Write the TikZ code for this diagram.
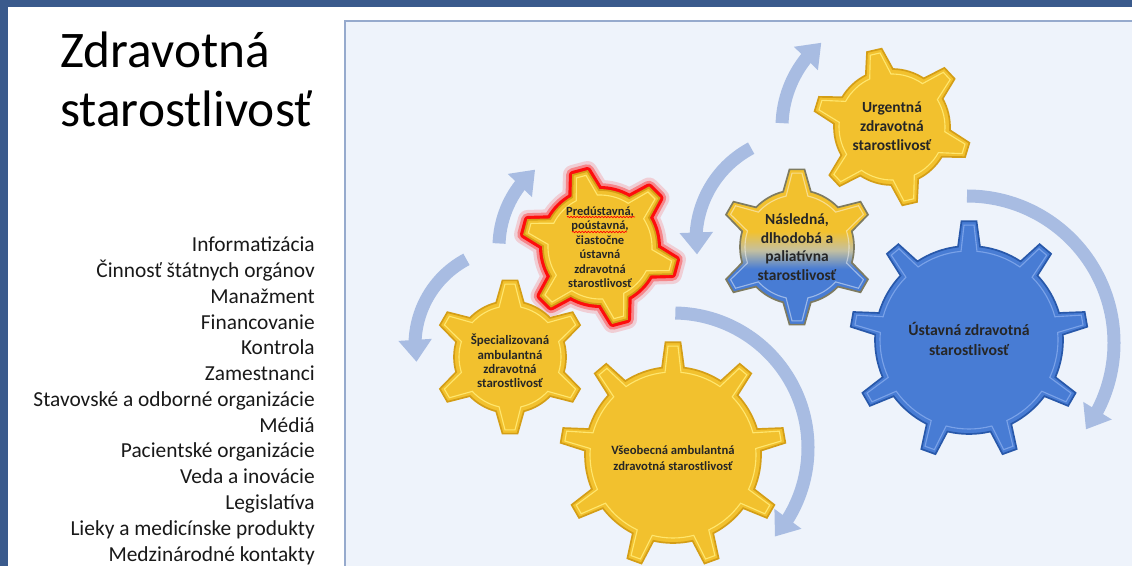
\documentclass[tikz,border=0pt]{standalone}
\usepackage{fontspec}
\setmainfont{Carlito}
\usetikzlibrary{arrows.meta,bending,decorations.pathmorphing}
\definecolor{slideframe}{RGB}{58,90,140}
\definecolor{panelfill}{RGB}{238,243,251}
\definecolor{panelline}{RGB}{150,170,205}
\definecolor{turnblue}{RGB}{168,188,226}
\definecolor{cogyellow}{RGB}{242,193,46}
\definecolor{cogyellowdark}{RGB}{212,158,22}
\definecolor{cogyellowlight}{RGB}{255,230,110}
\definecolor{cogblue}{RGB}{72,124,212}
\definecolor{cogbluedark}{RGB}{40,88,170}
\definecolor{cogbluelight}{RGB}{122,162,232}
\definecolor{cogmid}{RGB}{196,192,160}
\pgfdeclareverticalshading{cogmix}{100bp}{color(0bp)=(cogblue); color(43bp)=(cogblue); color(49bp)=(cogmid); color(55bp)=(cogyellow); color(100bp)=(cogyellow)}
% gear: [style](centre)(teeth:body r:tip r:rotation:half base:half tip)
\def\cogwheel[#1](#2)(#3:#4:#5:#6:#7:#8){%
  \begin{scope}[shift={(#2)}]
    \pgfmathsetmacro\cogstep{360/#3}
    \pgfmathsetmacro\cogb{deg(#7/#4)}
    \pgfmathsetmacro\cogt{deg(#8/#5)}
    \draw[#1] ({#6-\cogb}:#4) \foreach \k in {1,...,#3}{
      -- ({#6+(\k-1)*\cogstep-\cogt}:#5) -- ({#6+(\k-1)*\cogstep+\cogt}:#5)
      -- ({#6+(\k-1)*\cogstep+\cogb}:#4)
      arc[start angle={#6+(\k-1)*\cogstep+\cogb}, end angle={#6+\k*\cogstep-\cogb}, radius=#4]} -- cycle;
  \end{scope}}
% turning arrow: (centre)(start:end:radius)
\def\turnarc(#1)(#2:#3:#4){\draw[turnarrow] (#1) ++(#2:#4) arc[start angle=#2, end angle=#3, radius=#4];}

\begin{document}
\begin{tikzpicture}[x=0.025cm,y=0.025cm,
  turnarrow/.style={draw=turnblue, line width=0.325cm, -{Triangle[width=0.8cm,length=0.55cm]}},
  cogtext/.style={align=center, inner sep=0pt, text=black!85},
  listtext/.style={font=\fontsize{15.2}{18}\selectfont, inner sep=0pt, text=black!90},
  titletext/.style={font=\fontsize{36.5}{42}\selectfont, inner sep=0pt, anchor=base west},
  spellmark/.style={draw=red, line width=0.5pt, decorate, decoration={snake, amplitude=0.5pt, segment length=2.2pt}}]

\useasboundingbox (0,0) rectangle (1132,566);
\fill[slideframe] (0,0) rectangle (1132,566);
\fill[white] (8,0) rectangle (1132,559);
\draw[fill=panelfill, draw=panelline, line width=1.2pt] (345,-5) rectangle (1140,545);

% title and list
\node[titletext] (title1) at (60,498) {Zdravotná};
\node[titletext] (title2) at (60,439) {starostlivosť};
\foreach \txt [count=\i] in {Informatizácia, Činnosť štátnych orgánov, Manažment, Financovanie, Kontrola, Zamestnanci, Stavovské a odborné organizácie, Médiá, Pacientské organizácie, Veda a inovácie, Legislatíva, Lieky a medicínske produkty, Medzinárodné kontakty}
  \node[listtext, anchor=base east] (topic\i) at (315,{314-(\i-1)*25.75}) {\txt};

% arrows
\turnarc(512,221)(118:190:97)
\turnarc(600,319)(178:130:101)
\turnarc(673,118)(89:-41:135)
\turnarc(967,223)(90:-36:147)
\turnarc(800,326)(118:188:104)
\turnarc(892,439)(178:130:110)

% red glow
\cogwheel[draw=red, line width=0.5cm, opacity=0.15, line join=round](600,319)(6:57:77:-15:14:7.5)
\cogwheel[draw=red, line width=0.34cm, opacity=0.35, line join=round](600,319)(6:57:77:-15:14:7.5)
\cogwheel[draw=red, line width=0.2cm, opacity=0.9, line join=round](600,319)(6:57:77:-15:14:7.5)

% yellow gears
\cogwheel[fill=cogyellow, draw=cogyellowdark, line width=1.2pt](600,319)(6:57:77:-15:14:7.5)
\cogwheel[draw=cogyellowlight, line width=0.8pt](600,319)(6:52:73:-15:11:5)
\cogwheel[fill=cogyellow, draw=cogyellowdark, line width=1.2pt](510,209)(6:56:77:30:14:7.5)
\cogwheel[draw=cogyellowlight, line width=0.8pt](510,209)(6:51:73:30:11:5)
\cogwheel[fill=cogyellow, draw=cogyellowdark, line width=1.2pt](892,439)(6:58:79:-17:14:7.5)
\cogwheel[draw=cogyellowlight, line width=0.8pt](892,439)(6:53:75:-17:11:5)
\cogwheel[fill=cogyellow, draw=cogyellowdark, line width=1.2pt](673,111)(9:88:113:90:11:7.5)
\cogwheel[draw=cogyellowlight, line width=0.8pt](673,111)(9:83:109:90:8:5)

% mixed gear
\cogwheel[shade, shading=cogmix, draw=cogbluedark!50!cogyellowdark, line width=1.2pt](797,319)(6:57:78:30:14:7.5)
\cogwheel[draw=white, opacity=0.45, line width=0.8pt](797,319)(6:52:74:30:11:5)

% blue gear
\cogwheel[fill=cogblue, draw=cogbluedark, line width=1.2pt](969,226)(9:94:119:90:11:7.5)
\cogwheel[draw=cogbluelight, line width=0.8pt](969,226)(9:89:115:90:8:5)

% gear texts
\node[cogtext, font=\bfseries\fontsize{8.9}{10.3}\selectfont] (predust) at (600,319) {Predústavná,\\poústavná,\\čiastočne\\ústavná\\zdravotná\\starostlivosť};
\node[cogtext, font=\bfseries\fontsize{9.2}{10.3}\selectfont] (special) at (510,205) {Špecializovaná\\ambulantná\\zdravotná\\starostlivosť};
\node[cogtext, font=\bfseries\fontsize{11}{13.5}\selectfont] (urgent) at (892,440) {Urgentná\\zdravotná\\starostlivosť};
\node[cogtext, font=\bfseries\fontsize{11}{13.2}\selectfont] (nasledna) at (797,319) {Následná,\\dlhodobá a\\paliatívna\\starostlivosť};
\node[cogtext, font=\bfseries\fontsize{11.2}{14.2}\selectfont] (ustavna) at (969,227) {Ústavná zdravotná\\starostlivosť};
\node[cogtext, font=\bfseries\fontsize{9}{11.7}\selectfont] (vseob) at (673,108) {Všeobecná ambulantná\\zdravotná starostlivosť};
\draw[spellmark] ([shift={(-33,30)}]predust.center) -- ++(68,0);
\draw[spellmark] ([shift={(-28,15)}]predust.center) -- ++(55,0);
\end{tikzpicture}
\end{document}
